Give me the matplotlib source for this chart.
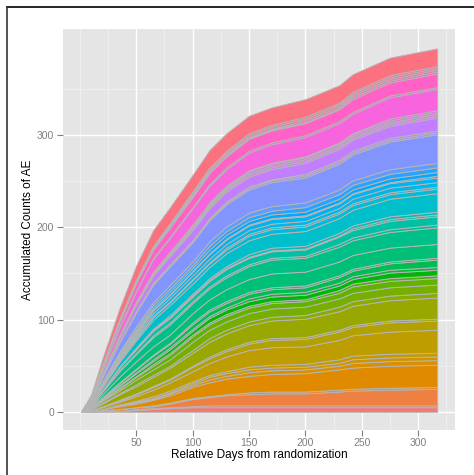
import numpy as np
import matplotlib
matplotlib.use("Agg")
import matplotlib.pyplot as plt
from matplotlib.lines import Line2D

# relative day knots
days = [1, 10, 20, 35, 50, 65, 80, 100, 115, 130, 150, 170, 200, 230, 242, 275, 317]

# accumulated AE counts per category (bottom -> top), grouped by colour band
salmon = [
    [0, 0, 1, 1, 2, 3, 4, 5, 5, 5, 5, 5, 5, 5, 5, 5, 5],
    [0, 0, 0, 0, 1, 1, 1, 1, 2, 2, 2, 2, 2, 2, 2, 2, 2],
    [0, 1, 1, 2, 2, 2, 4, 8, 9, 11, 12, 13, 13, 15, 16, 17, 18],
    [0, 0, 0, 0, 0, 1, 1, 1, 1, 1, 2, 2, 2, 2, 2, 2, 2],
]
orange = [
    [0, 0, 1, 3, 4, 6, 8, 12, 15, 17, 18, 19, 20, 22, 23, 24, 24],
]
ochre = [
    [0, 0, 0, 1, 1, 1, 2, 2, 3, 3, 4, 4, 4, 4, 5, 5, 5],
    [0, 0, 0, 1, 1, 1, 1, 2, 3, 3, 3, 3, 3, 3, 4, 4, 4],
    [0, 0, 0, 0, 1, 2, 2, 2, 2, 2, 3, 3, 3, 4, 4, 4, 4],
    [0, 1, 2, 3, 5, 7, 9, 11, 13, 16, 18, 19, 19, 21, 22, 24, 25],
    [0, 0, 1, 1, 2, 3, 3, 5, 5, 6, 7, 8, 8, 9, 9, 10, 10],
    [0, 0, 0, 1, 1, 1, 1, 1, 2, 2, 2, 2, 2, 2, 2, 2, 2],
]
olive = [
    [0, 1, 3, 6, 8, 10, 12, 14, 16, 17, 18, 19, 20, 20, 21, 22, 23],
    [0, 0, 1, 1, 2, 2, 2, 3, 4, 4, 4, 4, 4, 5, 5, 5, 5],
]
green = [
    [0, 1, 2, 3, 5, 6, 7, 9, 9, 9, 9, 9, 9, 9, 9, 9, 9],
    [0, 0, 1, 2, 3, 4, 5, 6, 6, 6, 6, 6, 6, 6, 7, 7, 7],
    [0, 0, 1, 1, 1, 2, 2, 2, 2, 2, 2, 2, 2, 3, 3, 3, 3],
    [0, 1, 1, 2, 3, 3, 4, 4, 5, 5, 5, 5, 5, 5, 5, 6, 6],
    [0, 0, 0, 1, 1, 2, 2, 2, 2, 2, 3, 3, 3, 3, 3, 3, 3],
    [0, 0, 1, 2, 3, 4, 4, 5, 5, 5, 5, 5, 5, 6, 6, 7, 8],
    [0, 0, 0, 1, 1, 1, 1, 2, 2, 2, 2, 2, 2, 2, 2, 2, 2],
]
teal = [
    [0, 1, 3, 6, 8, 9, 9, 10, 11, 13, 14, 15, 15, 15, 15, 15, 15],
    [0, 1, 3, 6, 8, 10, 11, 11, 12, 13, 14, 15, 15, 16, 16, 17, 18],
    [0, 0, 1, 1, 1, 2, 2, 2, 2, 2, 2, 2, 2, 3, 3, 3, 3],
    [0, 0, 1, 3, 4, 5, 5, 5, 6, 7, 7, 7, 7, 8, 8, 9, 9],
    [0, 0, 0, 0, 1, 1, 1, 1, 1, 1, 1, 1, 1, 1, 2, 2, 2],
    [0, 0, 0, 1, 1, 1, 2, 2, 2, 2, 3, 3, 3, 3, 3, 3, 3],
    [0, 1, 3, 5, 8, 10, 11, 11, 12, 14, 15, 15, 16, 16, 17, 19, 20],
]
cyan = [
    [0, 0, 1, 2, 2, 3, 3, 4, 4, 4, 5, 5, 5, 5, 5, 5, 5],
    [0, 0, 0, 1, 1, 1, 1, 1, 1, 2, 2, 2, 2, 2, 2, 2, 2],
    [0, 1, 1, 1, 2, 3, 4, 4, 4, 4, 4, 4, 4, 4, 5, 5, 5],
    [0, 0, 1, 2, 2, 3, 3, 4, 5, 5, 5, 5, 5, 5, 5, 5, 5],
    [0, 0, 0, 0, 1, 1, 1, 1, 1, 1, 1, 1, 1, 1, 1, 1, 2],
    [0, 0, 1, 2, 2, 2, 3, 3, 4, 4, 4, 4, 4, 4, 4, 4, 4],
    [0, 1, 1, 2, 2, 3, 3, 3, 4, 4, 4, 4, 5, 5, 5, 5, 5],
    [0, 0, 1, 1, 3, 3, 4, 4, 5, 5, 5, 5, 5, 5, 5, 5, 5],
]
blue = [
    [0, 2, 5, 10, 15, 19, 20, 21, 23, 24, 25, 26, 27, 28, 28, 30, 31],
]
purple = [
    [0, 0, 0, 1, 1, 1, 1, 1, 1, 2, 2, 2, 2, 2, 2, 2, 2],
    [0, 0, 0, 0, 1, 1, 1, 1, 1, 1, 1, 1, 2, 2, 2, 2, 2],
    [0, 1, 2, 4, 7, 8, 9, 11, 11, 11, 11, 11, 12, 12, 12, 13, 14],
    [0, 0, 1, 1, 1, 1, 1, 2, 2, 2, 2, 2, 2, 2, 2, 2, 2],
    [0, 0, 1, 1, 1, 1, 2, 2, 2, 2, 2, 2, 2, 2, 2, 2, 2],
    [0, 0, 0, 1, 1, 1, 1, 1, 1, 1, 2, 2, 2, 2, 2, 2, 2],
    [0, 0, 0, 0, 0, 1, 1, 1, 1, 1, 1, 1, 1, 1, 1, 2, 2],
]
magenta = [
    [0, 2, 4, 8, 11, 14, 15, 18, 18, 18, 19, 20, 21, 21, 21, 23, 23],
    [0, 0, 0, 1, 1, 1, 1, 1, 2, 2, 2, 2, 2, 2, 2, 2, 2],
    [0, 1, 3, 5, 8, 9, 10, 11, 12, 12, 13, 13, 13, 13, 14, 14, 15],
]
pink = [
    [0, 0, 1, 1, 1, 1, 1, 1, 1, 1, 1, 1, 1, 1, 2, 2, 2],
    [0, 0, 0, 1, 1, 1, 1, 1, 1, 1, 1, 1, 2, 2, 2, 2, 2],
    [0, 1, 1, 1, 1, 1, 2, 2, 2, 2, 2, 2, 2, 2, 2, 2, 2],
    [0, 0, 1, 1, 1, 1, 1, 2, 2, 2, 2, 2, 2, 2, 2, 2, 2],
    [0, 2, 6, 11, 15, 17, 17, 18, 19, 19, 19, 19, 19, 19, 19, 19, 19],
]

layers = salmon + orange + ochre + olive + green + teal + cyan + blue + purple + magenta + pink


def hue_pal(n, c=100, l=65):
    # ggplot2 default hue palette (polar Luv -> sRGB)
    hues = np.linspace(15, 375, n + 1)[:n]
    Xn, Yn, Zn = 95.047, 100.0, 108.883
    un = 4 * Xn / (Xn + 15 * Yn + 3 * Zn)
    vn = 9 * Yn / (Xn + 15 * Yn + 3 * Zn)
    Y = Yn * ((l + 16) / 116) ** 3
    M = np.array([[3.2404542, -1.5371385, -0.4985314],
                  [-0.9692660, 1.8760108, 0.0415560],
                  [0.0556434, -0.2040259, 1.0572252]])
    out = []
    for h in hues:
        u = c * np.cos(np.deg2rad(h))
        v = c * np.sin(np.deg2rad(h))
        up = u / (13 * l) + un
        vp = v / (13 * l) + vn
        X = 9 * Y * up / (4 * vp)
        Z = Y * (12 - 3 * up - 20 * vp) / (4 * vp)
        rgb = M @ np.array([X, Y, Z]) / 100
        rgb = np.where(rgb > 0.0031308, 1.055 * np.abs(rgb) ** (1 / 2.4) - 0.055, 12.92 * rgb)
        out.append(tuple(np.clip(rgb, 0, 1)))
    return out


cols = hue_pal(len(layers))

plt.rcParams["font.family"] = ["Liberation Sans", "DejaVu Sans"]

fig = plt.figure(figsize=(4.74, 4.75), dpi=100)
ax = fig.add_axes([63.3 / 474, 1 - 430 / 475, (455 - 63.3) / 474, (430 - 29.3) / 475])
ax.set_facecolor("#E5E5E5")

ax.stackplot(days, layers, colors=cols, edgecolor="#B5B5B5", linewidth=0.7)

ax.set_xlim(-14.8, 332.8)
ax.set_ylim(-19.7, 414.7)
ax.set_xticks([50, 100, 150, 200, 250, 300])
ax.set_yticks([0, 100, 200, 300])
ax.set_xticks(np.arange(0, 350, 25), minor=True)
ax.set_yticks([50, 150, 250, 350], minor=True)
ax.set_axisbelow(True)
ax.grid(which="minor", color="#F2F2F2", linewidth=0.5)
ax.grid(which="major", color="white", linewidth=1.0)
for s in ax.spines.values():
    s.set_visible(False)
ax.tick_params(which="minor", length=0)
ax.tick_params(which="major", length=4, width=0.8, color="#7F7F7F",
               labelcolor="#7F7F7F", labelsize=7.5)
ax.tick_params(axis="x", pad=1.5)
ax.tick_params(axis="y", pad=2.5)

ax.set_xlabel("Relative Days from randomization", fontsize=8.5, labelpad=1)
ax.set_ylabel("Accumulated Counts of AE", fontsize=8.5, labelpad=2)

# frame of the exported device, partly cut off
fig.add_artist(Line2D([6.5 / 474, 1], [1 - 6.5 / 475] * 2, color="black", lw=1.2))
fig.add_artist(Line2D([6.5 / 474] * 2, [0, 1 - 6.5 / 475], color="#333333", lw=1.2))

fig.savefig("out.png", dpi=100)
